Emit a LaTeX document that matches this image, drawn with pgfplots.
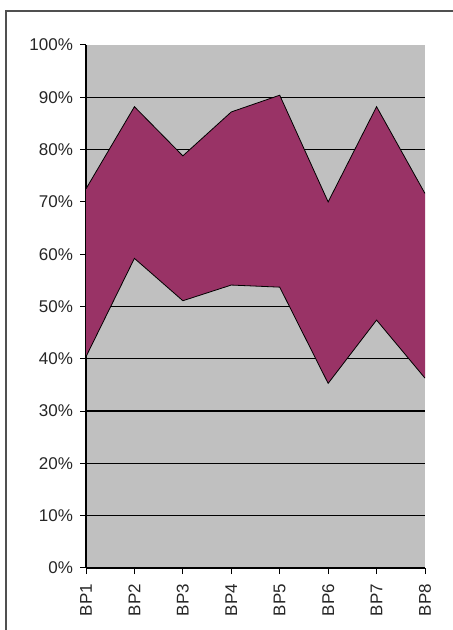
\documentclass[border=0pt]{standalone}
\usepackage{fontspec}
\setmainfont{Liberation Sans}
\usepackage{pgfplots}
\pgfplotsset{compat=1.18}
\usepgfplotslibrary{fillbetween}
\definecolor{plum}{HTML}{993366}
\definecolor{bgray}{HTML}{C0C0C0}
\definecolor{frame}{HTML}{505050}
\begin{document}
\begin{tikzpicture}
\path (-43pt,-31pt) rectangle (183pt,284pt);
\draw[overlay, frame, line width=1pt] (-40pt,-40pt) -- (-40pt,278.6pt) -- (190pt,278.6pt);
\begin{axis}[
  set layers,
  at={(0pt,0pt)}, anchor=south west,
  width=169.5pt, height=261.5pt, scale only axis,
  xmin=0, xmax=7, ymin=0, ymax=100,
  axis x line*=bottom, axis y line*=left,
  axis line style={black, line width=0.6pt, -},
  axis background/.style={fill=bgray},
  xtick={0,...,7},
  xticklabels={BP1,BP2,BP3,BP4,BP5,BP6,BP7,BP8},
  ytick={0,10,...,90},
  yticklabels={0\%,10\%,20\%,30\%,40\%,50\%,60\%,70\%,80\%,90\%},
  extra y ticks={100},
  extra y tick labels={100\%},
  extra y tick style={grid=none},
  ymajorgrids, grid style={black, line width=0.6pt},
  tick align=outside, major tick length=3pt,
  tick style={black, line width=0.5pt},
  tick label style={font=\fontsize{8.5}{10}\selectfont, text=black!85},
  x tick label style={rotate=90, anchor=east},
  xticklabel shift=1.5pt,
]
\addplot[name path=up, black, line width=0.4pt] table {
x y
0 72.5
1 88.2
2 78.8
3 87.2
4 90.4
5 70.0
6 88.2
7 71.6
};
\addplot[name path=lo, black, line width=0.4pt] table {
x y
0 40.4
1 59.2
2 51.1
3 54.1
4 53.7
5 35.3
6 47.4
7 36.3
};
\addplot[plum] fill between[of=up and lo];
\end{axis}
\end{tikzpicture}
\end{document}
